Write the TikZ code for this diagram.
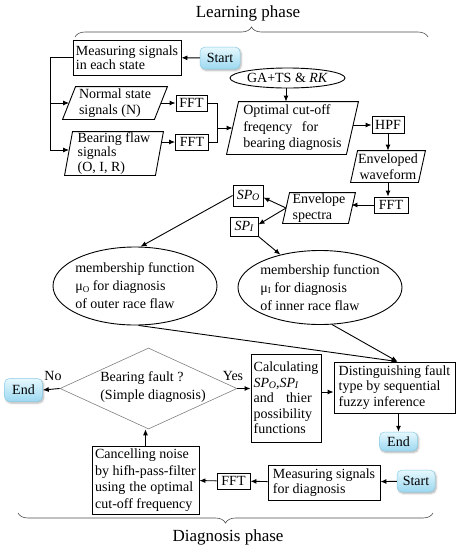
\documentclass[tikz,border=0pt]{standalone}
\usepackage{fontspec}
\setmainfont{Liberation Serif}
\usetikzlibrary{arrows.meta,shapes.geometric,decorations.pathreplacing,shadows.blur,calc}
\definecolor{termtop}{HTML}{E6F8FE}
\definecolor{termbot}{HTML}{9CD8F0}
\definecolor{termdraw}{HTML}{8ACCE6}
\newcommand\spo{\textit{SP\kern-0.3pt\raisebox{-0.15ex}{\fontsize{10}{10}\selectfont O}}}
\newcommand\spi{\textit{SP\kern-0.3pt\raisebox{-0.15ex}{\fontsize{10}{10}\selectfont I}}}
\newcommand\muo{μ\raisebox{-0.2ex}{\fontsize{9}{9}\selectfont O}}
\newcommand\mui{μ\raisebox{-0.2ex}{\fontsize{9}{9}\selectfont I}}
\newcommand\parabox[2]{\draw[line width=0.9pt] ([xshift=-#2]#1.south west) -- ([xshift=-#2]#1.south east) -- ([xshift=#2]#1.north east) -- ([xshift=#2]#1.north west) -- cycle;}
\tikzset{
  base/.style={font=\fontsize{14}{15.5}\selectfont, inner sep=0pt, line width=0.9pt},
  box/.style={base, draw, rectangle, align=left},
  pbody/.style={base, rectangle, align=left},
  ell/.style={base, draw, ellipse, inner sep=0pt},
  ellbig/.style={base, draw, ellipse, inner xsep=-8pt, inner ysep=0pt, align=left, font=\fontsize{14}{18}\selectfont},
  dia/.style={draw=gray, line width=0.6pt, diamond, inner sep=0pt},
  term/.style={base, rounded corners=5pt, draw=termdraw, line width=0.5pt, top color=termtop, bottom color=termbot,
     blur shadow={shadow xshift=1.2pt, shadow yshift=-1.5pt, shadow blur steps=6, shadow opacity=30},
     minimum width=40pt, minimum height=22pt},
  arr/.style={line width=0.9pt, -{Latex[length=6pt,width=5pt]}},
  ln/.style={line width=0.9pt},
  lbl/.style={font=\fontsize{17}{20}\selectfont, inner sep=0pt},
  brc/.style={draw=black!70, line width=0.6pt, decorate, decoration={brace, amplitude=10pt}},
}
\begin{document}
\begin{tikzpicture}[x=1pt,y=-1pt]
\useasboundingbox (0,0) rectangle (456,550);
% phase labels and braces
\node[lbl] (lp) at (248,13) {Learning phase};
\node[lbl] (dp) at (228,537) {Diagnosis phase};
\coordinate (tb1) at (75,37);
\coordinate (tb2) at (428,37);
\coordinate (bb1) at (433,513);
\coordinate (bb2) at (18,513);
\draw[brc] (tb1) -- (tb2);
\draw[brc] (bb1) -- (bb2);
% learning phase
\node[box, minimum width=108pt, minimum height=35pt, font=\fontsize{14}{14}\selectfont] (meas1) at (127,57.5) {Measuring signals\\in each state};
\node[term] (start1) at (220,58) {Start};
\node[pbody, minimum width=91pt, minimum height=32pt] (norm) at (115,103) {Normal state\\signals (N)};
\node[box, minimum width=31pt, minimum height=16pt] (fft1) at (191.5,103) {FFT};
\node[pbody, minimum width=90pt, minimum height=43pt, font=\fontsize{14}{14.5}\selectfont] (flaw) at (114,153.5) {Bearing flaw\\signals\\(O, I, R)};
\node[box, minimum width=33pt, minimum height=16pt] (fft2) at (192,142) {FFT};
\node[ell, minimum width=115pt, minimum height=20pt] (ga) at (287.5,78) {GA+TS \& \textit{RK}};
\node[pbody, minimum width=119pt, minimum height=52pt, font=\fontsize{14}{16.5}\selectfont] (opt) at (292.5,128) {Optimal cut-off\\\makebox[75pt][s]{freqency for}\\bearing diagnosis};
\node[box, minimum width=32pt, minimum height=17pt] (hpf) at (388,125) {HPF};
\node[pbody, minimum width=67pt, minimum height=31pt, align=center] (envw) at (388,166.5) {Enveloped\\waveform};
\node[box, minimum width=34pt, minimum height=16pt] (fft3) at (391,205) {FFT};
\node[pbody, minimum width=65pt, minimum height=30pt] (spec) at (319,208) {Envelope\\spectra};
\node[box, minimum width=30pt, minimum height=21pt] (sp0) at (248,195.5) {\spo};
\node[box, minimum width=28pt, minimum height=19pt] (sp1) at (244,226.5) {\spi};
\node[ellbig, minimum width=164pt, minimum height=78pt] (mf0) at (135,286) {membership function\\\muo{} for diagnosis\\of outer race flaw};
\node[ellbig, minimum width=164pt, minimum height=74pt] (mf1) at (320,287.5) {membership function\\\mui{} for diagnosis\\of inner race flaw};
\parabox{norm}{6.5pt}
\parabox{flaw}{4pt}
\parabox{opt}{6pt}
\parabox{envw}{3.5pt}
\parabox{spec}{3.5pt}
% diagnosis phase
\node[box, minimum width=121pt, minimum height=51pt] (dist) at (394.5,387.5) {Distinguishing fault\\type by sequential\\fuzzy inference};
\node[term, minimum width=38pt, minimum height=19pt] (end2) at (398.5,441.5) {End};
\node[box, minimum width=70pt, minimum height=88pt] (calc) at (286,398) {Calculating\\\spo,\spi\\\makebox[58pt][s]{and thier}\\possibility\\functions};
\node[dia, minimum width=177pt, minimum height=81pt] (dia) at (148.5,388.5) {};
\node[base, align=left, font=\fontsize{14}{18}\selectfont] (diat) at (153,387.5) {Bearing fault ?\\(Simple diagnosis)};
\node[term, minimum width=38pt, minimum height=23pt] (end1) at (23.5,390) {End};
\node[box, minimum width=107pt, minimum height=68pt, font=\fontsize{14}{16.5}\selectfont] (cancel) at (145.5,480) {Cancelling noise\\by hifh-pass-filter\\\makebox[98pt][s]{using the optimal}\\cut-off frequency};
\node[box, minimum width=33pt, minimum height=16pt] (fft4) at (233.5,481) {FFT};
\node[box, minimum width=112pt, minimum height=35pt, font=\fontsize{14}{14.5}\selectfont] (meas2) at (324,482.5) {Measuring signals\\for diagnosis};
\node[term, minimum width=38pt, minimum height=22pt] (start2) at (416,481) {Start};
\node[base] (yes) at (233,376) {Yes};
\node[base] (no) at (53,376) {No};
% connectors: learning phase
\coordinate (lt) at (50,57.5);
\coordinate (lm) at (50,103);
\coordinate (lb) at (50,150);
\coordinate (jopt) at (217,128);
\draw[arr] (start1) -- (meas1);
\draw[ln] (meas1.west) -- (lt) -- (lb);
\draw[arr] (lm) -- (norm.west);
\draw[arr] (lb) -- ([xshift=0.5pt]flaw.west |- lb);
\draw[arr] (norm.east) -- (fft1.west);
\draw[arr] ([xshift=2pt]flaw.east |- fft2.west) -- (fft2.west);
\draw[ln] (fft1.east) -| (jopt);
\draw[ln] (fft2.east) -| (jopt);
\draw[arr] (jopt) -- (opt.west);
\draw[arr] ([xshift=-1.5pt]ga.south) -- ([xshift=-1.5pt]ga.south |- opt.north);
\draw[arr] ([xshift=0.5pt]opt.east |- hpf.west) -- (hpf.west);
\draw[arr] (hpf.south) -- (envw.north);
\draw[arr] (envw.south) -- (envw.south |- fft3.north);
\draw[arr] (fft3.west) -- ([xshift=-0.5pt]fft3.west -| spec.east);
\draw[arr] (spec.west) -- ([yshift=-2pt]sp0.east);
\draw[arr] (spec.west) -- ([yshift=2pt]sp1.east);
\draw[arr] (sp0.west) -- (mf0.82);
\draw[arr] (sp1.south east) -- (mf1);
\draw[arr] (mf0.-85) -- ([xshift=3pt]dist.north);
\draw[arr] (mf1.-72) -- ([xshift=3pt]dist.north);
% connectors: diagnosis phase
\draw[arr] (start2) -- (meas2);
\draw[arr] (meas2) -- (fft4);
\draw[arr] (fft4) -- (cancel);
\draw[arr] (cancel.north) -- (cancel.north |- dia.south);
\draw[arr] (dia.east) -- (dia.east -| calc.west);
\draw[arr] (dia.west) -- (end1.east);
\draw[arr] ([yshift=6pt]calc.east) -- ([yshift=6pt]calc.east -| dist.west);
\draw[arr] (end2.north |- dist.south) -- (end2.north);
\end{tikzpicture}
\end{document}
